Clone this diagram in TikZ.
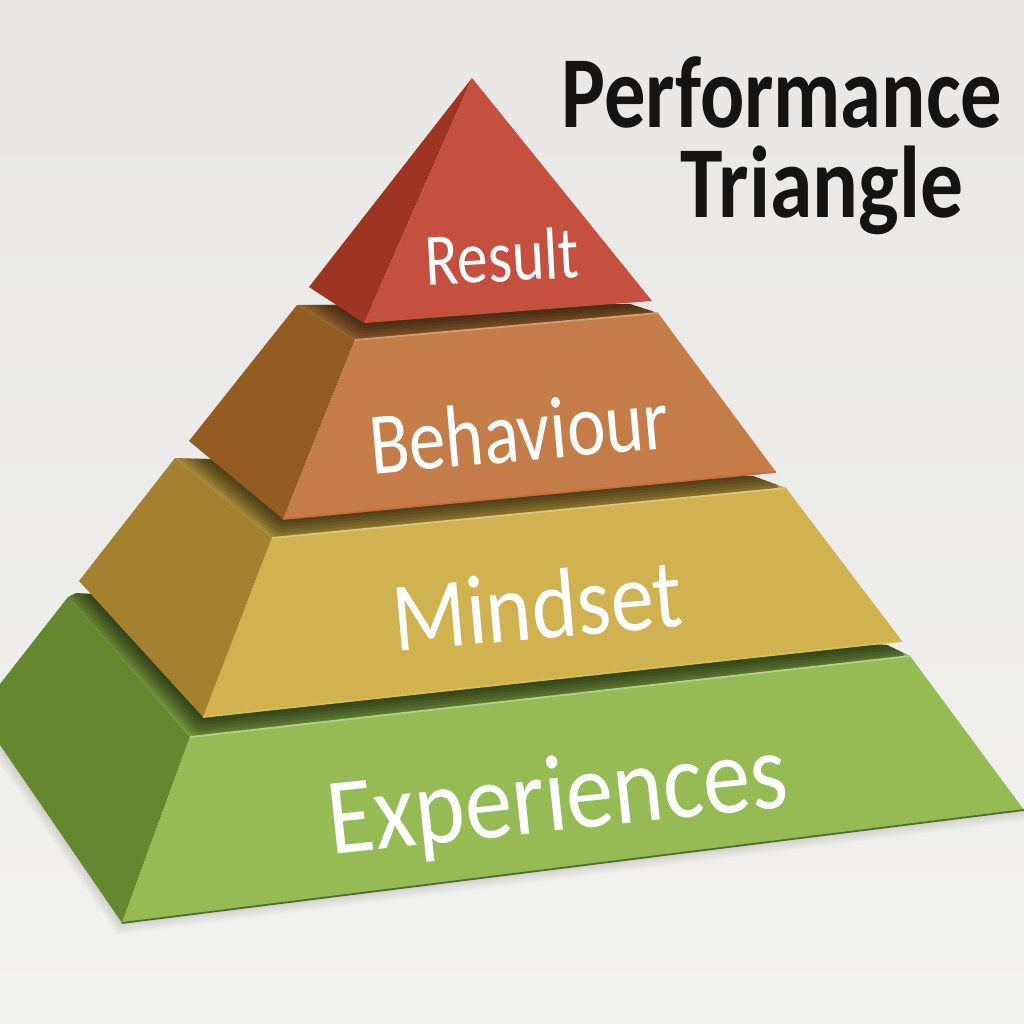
\documentclass[tikz,border=0pt]{standalone}
\usepackage{fontspec}
\setmainfont{Carlito}
\definecolor{redfront}{HTML}{C65040}
\definecolor{redside}{HTML}{9E3522}
\definecolor{orangefront}{HTML}{C47D48}
\definecolor{orangeside}{HTML}{925C22}
\definecolor{orangetop}{HTML}{B57538}
\definecolor{yellowfront}{HTML}{D0B250}
\definecolor{yellowside}{HTML}{A3812F}
\definecolor{yellowtop}{HTML}{C0A040}
\definecolor{greenfront}{HTML}{96BB55}
\definecolor{greenside}{HTML}{64872F}
\definecolor{greentop}{HTML}{82A845}
\definecolor{papertop}{HTML}{E8E7E6}
\definecolor{paperbottom}{HTML}{F1F1ED}
\tikzset{
    lab/.style={text=white,inner sep=0pt},
    ttl/.style={text=black!92,inner sep=0pt,anchor=base,font=\fontsize{29}{31}\bfseries\selectfont},
    seam/.style={line width=0.5pt,line join=round}
}
% soft shadow along a path
\newcommand{\softshade}[1]{
    \foreach \w in {3,6,...,27}
        \draw[black,opacity=0.09,line width=\w*0.5pt,line join=round] #1;
}
\begin{document}
\begin{tikzpicture}[x=0.01cm,y=-0.01cm]
    \useasboundingbox (0,0) rectangle (1024,1024);
    \shade[top color=papertop,bottom color=paperbottom] (0,0) rectangle (1024,1024);

    % ground shadow
    \begin{scope}
        \clip (0,745)--(122,923)--(1024,810)--(1024,1024)--(0,1024)--cycle;
        \foreach \w in {2,4,...,12}
            \draw[black,opacity=0.02,line width=\w*0.5pt] (0,745)--(122,923)--(1024,810);
    \end{scope}

    % green
    \begin{scope}
        \clip (68,597)--(76,593)--(887,645)--(910,656)--(190,737)--cycle;
        \fill[greentop] (0,580) rectangle (920,740);
        \softshade{(79,581)--(203,717)--(902,641)}
    \end{scope}
    \fill[greenside] (68,597)--(0,684)--(0,745)--(122,923)--(190,737)--cycle;
    \fill[greenfront] (190,737)--(910,656)--(1024,810)--(122,923)--cycle;
    \draw[seam,greenfront!70!white] (190,737)--(910,656);
    \draw[seam,greenside!80!black] (122,923)--(1024,810);
    % yellow
    \begin{scope}
        \clip (175,458)--(753,476)--(786,488)--(272,538)--cycle;
        \fill[yellowtop] (170,450) rectangle (790,540);
        \softshade{(189,441)--(283,519)--(776,472)}
    \end{scope}
    \fill[yellowside] (175,458)--(79,581)--(203,717)--(272,538)--cycle;
    \fill[yellowfront] (272,538)--(786,488)--(902,641)--(203,717)--cycle;
    \draw[seam,yellowfront!75!white] (272,538)--(786,488);
    \draw[seam,yellowfront!80!yellow] (203,717)--(902,641);
    % orange
    \begin{scope}
        \clip (297,305)--(630,304)--(658,313)--(355,340)--cycle;
        \fill[orangetop] (290,300) rectangle (660,345);
        \softshade{(309,287)--(364,323)--(652,301)}
    \end{scope}
    \fill[orangeside] (297,305)--(189,441)--(283,519)--(355,340)--cycle;
    \fill[orangefront] (355,340)--(658,313)--(776,472)--(283,519)--cycle;
    \draw[seam,orangefront!75!white] (355,340)--(658,313);
    \draw[seam,orangefront!85!red] (283,519)--(776,472);
    % red
    \fill[redside] (472,78)--(309,287)--(364,323)--cycle;
    \fill[redfront] (472,78)--(652,301)--(364,323)--cycle;

    \node[lab,font=\fontsize{21}{24}\selectfont,rotate=3,xscale=0.83] (result) at (502,256) {Result};
    \node[lab,font=\fontsize{25}{28}\selectfont,rotate=5,xscale=0.83] (behaviour) at (519,431) {Behaviour};
    \node[lab,font=\fontsize{28}{30}\selectfont,rotate=5,xscale=0.88] (mindset) at (537,605) {Mindset};
    \node[lab,font=\fontsize{31}{33}\selectfont,rotate=6,xscale=0.87] (experiences) at (558,802) {Experiences};

    \node[ttl,xscale=0.81] (performance) at (782,127) {Performance};
    \node[ttl,xscale=0.84] (triangle) at (822,217) {Triangle};
\end{tikzpicture}
\end{document}
